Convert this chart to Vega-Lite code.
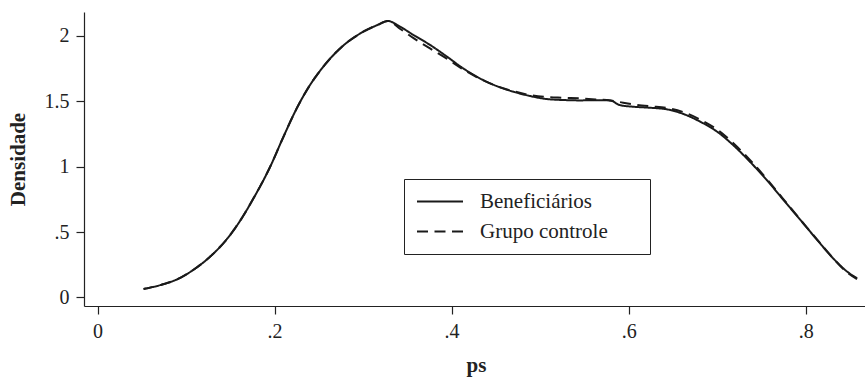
{
  "$schema": "https://vega.github.io/schema/vega-lite/v6.json",
  "width": 781,
  "height": 294,
  "autosize": "none",
  "padding": {"left": 84, "top": 12, "right": 0, "bottom": 78},
  "background": "white",
  "config": {
    "view": {"stroke": null},
    "font": "Liberation Serif",
    "axis": {
      "grid": false,
      "domainColor": "#222",
      "domainWidth": 1.2,
      "tickColor": "#222",
      "tickWidth": 1.2,
      "tickSize": 8,
      "labelFont": "Liberation Serif",
      "labelFontSize": 20,
      "labelColor": "#222",
      "titleFont": "Liberation Serif",
      "titleFontSize": 21,
      "titleFontWeight": "bold",
      "titleColor": "#222"
    }
  },
  "data": {
    "values": [
      {"ps": 0.052, "dens": 0.065, "grupo": "Beneficiários"},
      {"ps": 0.071, "dens": 0.095, "grupo": "Beneficiários"},
      {"ps": 0.090, "dens": 0.139, "grupo": "Beneficiários"},
      {"ps": 0.108, "dens": 0.210, "grupo": "Beneficiários"},
      {"ps": 0.127, "dens": 0.311, "grupo": "Beneficiários"},
      {"ps": 0.146, "dens": 0.445, "grupo": "Beneficiários"},
      {"ps": 0.161, "dens": 0.585, "grupo": "Beneficiários"},
      {"ps": 0.176, "dens": 0.755, "grupo": "Beneficiários"},
      {"ps": 0.195, "dens": 0.998, "grupo": "Beneficiários"},
      {"ps": 0.210, "dens": 1.227, "grupo": "Beneficiários"},
      {"ps": 0.225, "dens": 1.444, "grupo": "Beneficiários"},
      {"ps": 0.240, "dens": 1.622, "grupo": "Beneficiários"},
      {"ps": 0.255, "dens": 1.762, "grupo": "Beneficiários"},
      {"ps": 0.274, "dens": 1.902, "grupo": "Beneficiários"},
      {"ps": 0.297, "dens": 2.017, "grupo": "Beneficiários"},
      {"ps": 0.316, "dens": 2.080, "grupo": "Beneficiários"},
      {"ps": 0.328, "dens": 2.111, "grupo": "Beneficiários"},
      {"ps": 0.342, "dens": 2.067, "grupo": "Beneficiários"},
      {"ps": 0.357, "dens": 2.004, "grupo": "Beneficiários"},
      {"ps": 0.376, "dens": 1.927, "grupo": "Beneficiários"},
      {"ps": 0.395, "dens": 1.838, "grupo": "Beneficiários"},
      {"ps": 0.413, "dens": 1.750, "grupo": "Beneficiários"},
      {"ps": 0.432, "dens": 1.673, "grupo": "Beneficiários"},
      {"ps": 0.451, "dens": 1.614, "grupo": "Beneficiários"},
      {"ps": 0.470, "dens": 1.571, "grupo": "Beneficiários"},
      {"ps": 0.489, "dens": 1.538, "grupo": "Beneficiários"},
      {"ps": 0.508, "dens": 1.515, "grupo": "Beneficiários"},
      {"ps": 0.526, "dens": 1.508, "grupo": "Beneficiários"},
      {"ps": 0.545, "dens": 1.505, "grupo": "Beneficiários"},
      {"ps": 0.564, "dens": 1.507, "grupo": "Beneficiários"},
      {"ps": 0.579, "dens": 1.505, "grupo": "Beneficiários"},
      {"ps": 0.590, "dens": 1.469, "grupo": "Beneficiários"},
      {"ps": 0.605, "dens": 1.457, "grupo": "Beneficiários"},
      {"ps": 0.624, "dens": 1.449, "grupo": "Beneficiários"},
      {"ps": 0.643, "dens": 1.437, "grupo": "Beneficiários"},
      {"ps": 0.662, "dens": 1.401, "grupo": "Beneficiários"},
      {"ps": 0.681, "dens": 1.342, "grupo": "Beneficiários"},
      {"ps": 0.700, "dens": 1.266, "grupo": "Beneficiários"},
      {"ps": 0.718, "dens": 1.164, "grupo": "Beneficiários"},
      {"ps": 0.737, "dens": 1.037, "grupo": "Beneficiários"},
      {"ps": 0.756, "dens": 0.897, "grupo": "Beneficiários"},
      {"ps": 0.775, "dens": 0.744, "grupo": "Beneficiários"},
      {"ps": 0.794, "dens": 0.592, "grupo": "Beneficiários"},
      {"ps": 0.813, "dens": 0.439, "grupo": "Beneficiários"},
      {"ps": 0.831, "dens": 0.299, "grupo": "Beneficiários"},
      {"ps": 0.847, "dens": 0.197, "grupo": "Beneficiários"},
      {"ps": 0.858, "dens": 0.147, "grupo": "Beneficiários"},
      {"ps": 0.052, "dens": 0.065, "grupo": "Grupo controle"},
      {"ps": 0.071, "dens": 0.095, "grupo": "Grupo controle"},
      {"ps": 0.090, "dens": 0.139, "grupo": "Grupo controle"},
      {"ps": 0.108, "dens": 0.210, "grupo": "Grupo controle"},
      {"ps": 0.127, "dens": 0.311, "grupo": "Grupo controle"},
      {"ps": 0.146, "dens": 0.445, "grupo": "Grupo controle"},
      {"ps": 0.161, "dens": 0.585, "grupo": "Grupo controle"},
      {"ps": 0.176, "dens": 0.755, "grupo": "Grupo controle"},
      {"ps": 0.195, "dens": 0.998, "grupo": "Grupo controle"},
      {"ps": 0.210, "dens": 1.227, "grupo": "Grupo controle"},
      {"ps": 0.225, "dens": 1.444, "grupo": "Grupo controle"},
      {"ps": 0.240, "dens": 1.622, "grupo": "Grupo controle"},
      {"ps": 0.255, "dens": 1.762, "grupo": "Grupo controle"},
      {"ps": 0.274, "dens": 1.902, "grupo": "Grupo controle"},
      {"ps": 0.297, "dens": 2.017, "grupo": "Grupo controle"},
      {"ps": 0.316, "dens": 2.080, "grupo": "Grupo controle"},
      {"ps": 0.328, "dens": 2.111, "grupo": "Grupo controle"},
      {"ps": 0.342, "dens": 2.050, "grupo": "Grupo controle"},
      {"ps": 0.357, "dens": 1.980, "grupo": "Grupo controle"},
      {"ps": 0.376, "dens": 1.900, "grupo": "Grupo controle"},
      {"ps": 0.395, "dens": 1.822, "grupo": "Grupo controle"},
      {"ps": 0.413, "dens": 1.742, "grupo": "Grupo controle"},
      {"ps": 0.432, "dens": 1.670, "grupo": "Grupo controle"},
      {"ps": 0.451, "dens": 1.614, "grupo": "Grupo controle"},
      {"ps": 0.470, "dens": 1.575, "grupo": "Grupo controle"},
      {"ps": 0.489, "dens": 1.545, "grupo": "Grupo controle"},
      {"ps": 0.508, "dens": 1.530, "grupo": "Grupo controle"},
      {"ps": 0.526, "dens": 1.525, "grupo": "Grupo controle"},
      {"ps": 0.545, "dens": 1.520, "grupo": "Grupo controle"},
      {"ps": 0.564, "dens": 1.512, "grupo": "Grupo controle"},
      {"ps": 0.579, "dens": 1.505, "grupo": "Grupo controle"},
      {"ps": 0.590, "dens": 1.492, "grupo": "Grupo controle"},
      {"ps": 0.605, "dens": 1.475, "grupo": "Grupo controle"},
      {"ps": 0.624, "dens": 1.460, "grupo": "Grupo controle"},
      {"ps": 0.643, "dens": 1.448, "grupo": "Grupo controle"},
      {"ps": 0.662, "dens": 1.415, "grupo": "Grupo controle"},
      {"ps": 0.681, "dens": 1.358, "grupo": "Grupo controle"},
      {"ps": 0.700, "dens": 1.282, "grupo": "Grupo controle"},
      {"ps": 0.718, "dens": 1.180, "grupo": "Grupo controle"},
      {"ps": 0.737, "dens": 1.050, "grupo": "Grupo controle"},
      {"ps": 0.756, "dens": 0.905, "grupo": "Grupo controle"},
      {"ps": 0.775, "dens": 0.750, "grupo": "Grupo controle"},
      {"ps": 0.794, "dens": 0.595, "grupo": "Grupo controle"},
      {"ps": 0.813, "dens": 0.442, "grupo": "Grupo controle"},
      {"ps": 0.831, "dens": 0.300, "grupo": "Grupo controle"},
      {"ps": 0.847, "dens": 0.190, "grupo": "Grupo controle"},
      {"ps": 0.858, "dens": 0.140, "grupo": "Grupo controle"}
    ]
  },
  "mark": {"type": "line", "interpolate": "monotone", "color": "#1a1a1a", "strokeWidth": 2},
  "encoding": {
    "x": {
      "field": "ps",
      "type": "quantitative",
      "scale": {"domain": [-0.0153, 0.867], "nice": false, "zero": false},
      "axis": {
        "values": [0, 0.2, 0.4, 0.6, 0.8],
        "labelExpr": "replace(format(datum.value, '.1~f'), '0.', '.')",
        "labelPadding": 7,
        "title": "ps",
        "titleX": 392,
        "titleY": 59,
        "titleBaseline": "middle",
        "titleAlign": "center"
      }
    },
    "y": {
      "field": "dens",
      "type": "quantitative",
      "scale": {"domain": [-0.065, 2.18], "nice": false, "zero": false},
      "axis": {
        "values": [0, 0.5, 1, 1.5, 2],
        "labelExpr": "replace(format(datum.value, '.1~f'), '0.', '.')",
        "labelPadding": 7,
        "title": "Densidade",
        "titleAngle": 270,
        "titleX": -66,
        "titleY": 147,
        "titleBaseline": "middle",
        "titleAlign": "center"
      }
    },
    "strokeDash": {
      "field": "grupo",
      "type": "nominal",
      "scale": {"domain": ["Beneficiários", "Grupo controle"], "range": [[1, 0], [11, 6.5]]},
      "legend": {
        "title": null,
        "orient": "none",
        "legendX": 320,
        "legendY": 167,
        "fillColor": "white",
        "strokeColor": "#222",
        "padding": 12,
        "rowPadding": 8,
        "clipHeight": 21,
        "symbolType": "stroke",
        "symbolSize": 2116,
        "symbolStrokeWidth": 2,
        "symbolStrokeColor": "#1a1a1a",
        "labelOffset": 16,
        "labelFont": "Liberation Serif",
        "labelFontSize": 21,
        "labelColor": "#222",
        "labelLimit": 300,
        "labelExpr": "datum.label + '\u2800\u2800'"
      }
    }
  }
}
